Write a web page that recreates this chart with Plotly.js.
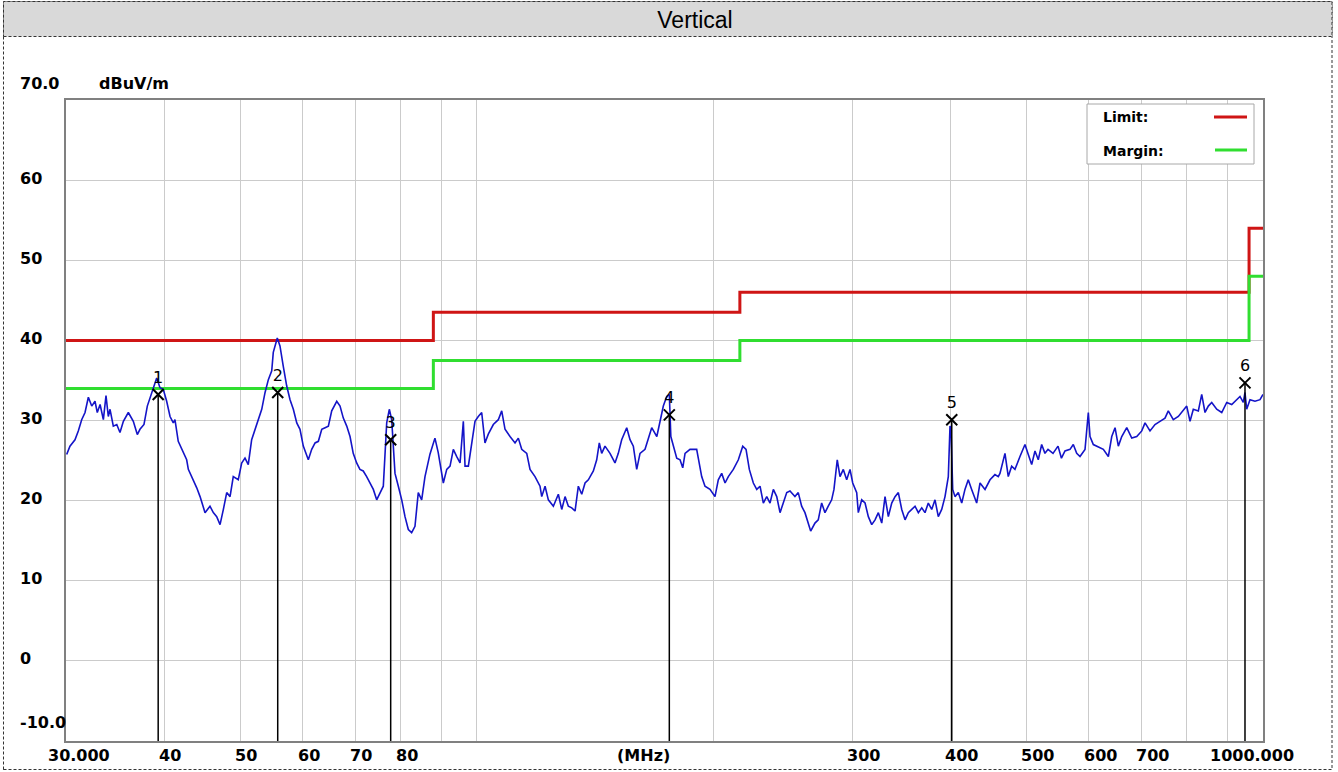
<!DOCTYPE html>
<html><head><meta charset="utf-8">
<script src="https://cdn.plot.ly/plotly-3.0.1.min.js"></script>
<style>html,body{margin:0;padding:0;background:#fff}#chart{width:1338px;height:772px}</style>
</head><body><div id="chart"></div>
<script>
// ---- data ----
const freqMHz = [30.06,30.35,30.80,31.10,31.41,31.72,32.03,32.35,32.66,32.88,33.15,33.47,33.73,33.96,34.13,34.46,34.81,35.14,35.49,36.01,36.54,36.97,37.26,37.70,38.07,38.45,38.93,39.13,39.51,39.89,40.29,40.69,41.08,41.28,41.68,42.30,42.72,42.93,43.56,44.00,44.43,44.65,45.08,45.74,46.19,46.65,47.11,47.57,48.04,48.51,48.97,49.69,50.19,50.68,51.17,51.68,52.18,52.69,53.23,53.75,54.27,54.81,55.06,55.71,56.15,56.69,57.27,57.83,58.39,58.98,59.54,60.12,61.01,61.62,62.23,62.83,63.46,64.08,64.70,65.34,66.31,66.95,67.60,68.28,68.94,69.59,70.29,70.97,71.66,72.38,73.08,73.81,74.54,75.27,76.00,76.76,77.35,77.89,78.65,79.42,80.21,80.99,81.78,82.58,83.39,84.20,85.04,85.87,87.13,88.41,89.27,90.61,91.52,92.41,93.30,94.24,95.16,96.08,96.56,97.50,98.46,99.42,100.38,101.39,102.37,103.37,104.90,106.45,107.51,108.56,110.16,111.79,112.87,114.00,115.69,116.81,118.53,120.28,120.88,122.07,123.25,125.07,126.91,128.18,129.43,130.69,132.00,133.28,134.57,135.92,137.24,138.57,140.62,142.01,143.09,144.10,145.50,147.65,149.82,151.28,152.79,155.06,156.57,158.09,159.67,161.22,163.60,165.19,166.84,169.35,170.95,172.61,174.34,175.67,176.45,177.80,179.53,181.27,182.71,183.95,186.64,190.33,191.79,193.14,195.02,197.90,200.82,202.77,204.80,206.82,208.82,211.90,215.03,217.82,219.94,222.07,224.69,226.94,229.14,231.37,233.69,235.96,238.25,240.63,242.97,245.33,247.79,250.14,253.83,256.29,258.86,261.37,263.91,265.78,269.14,271.76,274.48,277.14,279.84,282.64,284.55,287.31,289.63,292.45,295.38,298.25,300.62,304.16,305.59,308.65,311.67,314.70,317.85,320.94,324.06,327.30,330.47,333.69,337.02,340.30,343.61,347.05,350.42,353.83,357.37,360.84,364.35,368.00,371.52,375.13,378.89,382.57,386.28,390.15,393.95,397.78,399.76,400.94,402.94,405.66,409.61,413.71,417.67,421.72,425.94,432.23,436.50,442.94,449.47,456.03,460.46,462.76,469.59,474.15,478.90,483.55,490.71,497.95,502.79,507.83,512.74,517.72,522.90,527.98,532.72,540.58,548.55,554.05,559.87,568.14,573.66,579.40,585.03,593.70,599.47,602.46,608.32,614.41,620.38,626.41,635.69,642.05,648.29,654.58,661.14,670.90,680.79,690.84,701.03,707.83,718.18,728.77,739.52,750.44,757.73,768.91,780.33,791.84,799.77,807.54,815.37,827.42,835.67,843.79,851.99,860.52,873.22,886.13,899.21,912.48,925.94,934.82,943.89,948.61,953.35,962.61,976.83,991.25,1000];
const levelDb = [25.75,26.8,27.6,28.7,30.1,31.0,32.9,31.8,32.4,31.0,32.0,30.1,33.1,30.5,31.4,29.3,29.5,28.5,29.9,31.0,29.9,28.25,28.9,29.5,31.8,33.0,34.7,35.3,34.1,33.9,32.4,30.5,29.7,30.1,27.4,26.0,25.1,23.9,22.6,21.6,20.5,19.9,18.5,19.3,18.5,18.0,17.0,18.9,21.0,20.5,23.0,22.6,24.7,25.3,24.5,27.6,28.9,30.1,31.4,33.5,35.1,36.2,38.5,40.3,39.3,36.8,34.3,32.6,31.4,29.7,28.9,26.8,25.1,26.4,27.2,27.4,28.9,29.1,29.3,31.2,32.4,31.8,30.3,29.3,28.0,25.9,24.7,23.9,23.7,23.0,22.2,21.4,20.1,21.0,21.8,29.7,31.4,30.1,23.4,21.8,20.1,18.0,16.4,16.0,16.8,21.0,20.1,23.0,25.8,27.8,26.0,22.2,23.9,24.3,26.4,25.5,24.7,29.9,24.3,24.3,27.2,29.9,30.5,31.0,27.2,28.3,29.5,30.1,31.2,28.9,28.0,27.2,27.8,26.4,25.9,23.9,23.0,21.8,20.5,21.8,20.1,19.3,20.8,18.9,20.5,19.3,19.1,18.7,21.8,20.8,22.2,22.6,23.7,25.1,27.2,25.9,26.8,25.9,24.7,25.9,27.6,29.1,27.6,26.8,23.9,25.9,26.4,27.6,29.1,28.0,29.7,31.8,33.0,33.25,28.0,26.8,25.3,25.1,24.1,25.9,26.4,26.4,24.7,23.0,21.8,21.4,20.5,22.6,23.4,22.2,23.0,23.9,25.1,26.8,26.4,23.9,22.2,21.4,21.8,19.7,20.5,19.7,21.4,20.5,18.5,19.7,21.0,21.2,20.5,21.0,19.3,18.5,17.2,16.2,17.2,17.6,19.7,18.5,19.3,20.1,21.4,25.1,23.0,23.9,22.6,23.9,22.2,21.0,18.5,20.1,19.7,18.0,17.0,17.6,18.5,17.2,20.5,18.0,19.7,20.5,21.0,18.9,17.6,18.5,18.9,19.3,18.5,19.1,18.5,19.7,18.9,20.1,18.0,18.9,20.5,23.0,29.3,28.9,21.4,20.5,21.0,19.7,21.4,22.6,21.4,19.7,22.2,21.4,22.6,23.25,23.0,23.4,25.9,23.0,24.3,23.9,25.5,27.0,25.75,24.5,26.2,25.1,27.0,25.9,26.4,25.9,26.8,25.3,26.2,26.4,27.0,25.9,25.5,26.4,31.0,28.0,27.0,26.8,26.6,26.4,25.5,28.0,29.1,26.8,28.0,29.1,27.8,28.0,28.7,29.7,28.7,29.5,29.9,30.3,31.2,30.1,30.5,31.2,31.8,29.9,31.4,31.2,33.25,31.0,31.8,32.25,31.4,31.0,32.25,32.0,32.6,33.0,32.25,33.5,31.4,32.6,32.4,32.6,33.25];

const limitFreq = [30, 88, 216, 960, 1000];
const limitDb = [40, 43.5, 46, 54, 54];
const marginFreq = [30, 88, 216, 960, 1000];
const marginDb = [34, 37.5, 40, 48, 48];

const markerFreq = [39.3, 55.78, 77.66, 175.67, 401.8, 948.6];
const markerDb = [33.25, 33.5, 27.6, 30.7, 30.1, 34.7];
const markerLabels = ['1', '2', '3', '4', '5', '6'];

const xTickVals = [30, 40, 50, 60, 70, 80, 300, 400, 500, 600, 700, 1000];
const xTickText = ['30.000', '40', '50', '60', '70', '80', '300', '400', '500', '600', '700', '1000.000'];
const xGridVals = [40, 50, 60, 70, 80, 90, 100, 200, 300, 400, 500, 600, 700, 800, 900];
const yTickVals = [70, 60, 50, 40, 30, 20, 10, 0, -10];
const yTickText = ['70.0', '60', '50', '40', '30', '20', '10', '0', '-10.0'];
const xUnit = '(MHz)';
const yUnit = 'dBuV/m';
const chartTitle = 'Vertical';
const legendNames = ['Limit:', 'Margin:'];

// ---- styling / layout ----
const W = 1338, H = 772;
const M = {l: 66, r: 75, t: 100, b: 31};
const pw = W - M.l - M.r, ph = H - M.t - M.b;
const px2x = p => (p - M.l) / pw;          // pixel -> paper x
const py2y = p => (H - M.b - p) / ph;      // pixel -> paper y
const yMin = -10, yMax = 70;
const boldFont = {family: 'DejaVu Sans', size: 16, color: '#000', weight: 'bold'};
const RED = '#cf1515', GREEN = '#30de30', BLUE = '#1414c8';

const traces = [];
traces.push({x: limitFreq, y: limitDb, type: 'scatter', mode: 'lines', line: {color: RED, width: 3, shape: 'hv'}, hoverinfo: 'skip'});
traces.push({x: marginFreq, y: marginDb, type: 'scatter', mode: 'lines', line: {color: GREEN, width: 3, shape: 'hv'}, hoverinfo: 'skip'});
traces.push({x: freqMHz, y: levelDb, type: 'scatter', mode: 'lines', line: {color: BLUE, width: 1.6}, hoverinfo: 'skip'});
markerFreq.forEach((f, i) => {
  traces.push({x: [f, f], y: [markerDb[i], yMin], type: 'scatter', mode: 'lines', line: {color: '#000', width: 1.5}, hoverinfo: 'skip'});
});
traces.push({x: markerFreq, y: markerDb, text: markerLabels, type: 'scatter', mode: 'markers+text',
  marker: {symbol: 'x-thin', size: 11, color: '#000', line: {width: 2, color: '#000'}},
  textposition: 'top center', textfont: {family: 'DejaVu Sans', size: 16, color: '#000'}, cliponaxis: false, hoverinfo: 'skip'});

const annotations = [];
xTickVals.forEach((v, i) => {
  const last = i === xTickVals.length - 1, first = i === 0;
  annotations.push({x: Math.log10(v), xref: 'x', y: yMin, yref: 'y', text: xTickText[i], showarrow: false,
    xanchor: last ? 'right' : 'left', xshift: first ? -20 : (last ? 33 : -7), yanchor: 'middle', yshift: -14, font: boldFont});
});
annotations.push({x: px2x(643), xref: 'paper', y: yMin, yref: 'y', text: xUnit, showarrow: false, xanchor: 'center', yanchor: 'middle', yshift: -14, font: boldFont});
yTickVals.forEach((v, i) => {
  let ys = 2;
  if (i === 0) ys = 17;
  if (i === yTickVals.length - 1) ys = 19;
  annotations.push({x: px2x(17.5), xref: 'paper', y: v, yref: 'y', text: yTickText[i], showarrow: false, xanchor: 'left', yanchor: 'middle', yshift: ys, font: boldFont});
});
annotations.push({x: px2x(97), xref: 'paper', y: yMax, yref: 'y', text: yUnit, showarrow: false, xanchor: 'left', yanchor: 'middle', yshift: 17, font: boldFont});
// legend texts
const legFont = {family: 'DejaVu Sans', size: 14, color: '#000', weight: 'bold'};
annotations.push({x: px2x(1101), xref: 'paper', y: py2y(117), yref: 'paper', text: legendNames[0], showarrow: false, xanchor: 'left', yanchor: 'middle', font: legFont});
annotations.push({x: px2x(1101), xref: 'paper', y: py2y(151), yref: 'paper', text: legendNames[1], showarrow: false, xanchor: 'left', yanchor: 'middle', font: legFont});

const shapes = [
  // outer dashed frame
  {type: 'rect', xref: 'paper', yref: 'paper', x0: px2x(3.5), x1: px2x(1332), y0: py2y(769.5), y1: py2y(1.5), line: {color: '#333', width: 1, dash: '3px,2px'}, fillcolor: 'rgba(0,0,0,0)', layer: 'below'},
  // title bar
  {type: 'rect', xref: 'paper', yref: 'paper', x0: px2x(3.5), x1: px2x(1332), y0: py2y(36.5), y1: py2y(1.5), line: {color: '#333', width: 1, dash: '3px,2px'}, fillcolor: '#d9d9d9', layer: 'below'},
  // legend box
  {type: 'rect', xref: 'paper', yref: 'paper', x0: px2x(1087), x1: px2x(1254), y0: py2y(164), y1: py2y(104), line: {color: '#a8a8a8', width: 1}, fillcolor: '#fff', layer: 'above'},
  {type: 'line', xref: 'paper', yref: 'paper', x0: px2x(1214), x1: px2x(1247), y0: py2y(117), y1: py2y(117), line: {color: RED, width: 3}, layer: 'above'},
  {type: 'line', xref: 'paper', yref: 'paper', x0: px2x(1215), x1: px2x(1247), y0: py2y(150), y1: py2y(150), line: {color: GREEN, width: 3}, layer: 'above'}
];

const layout = {
  width: W, height: H, margin: M, showlegend: false,
  paper_bgcolor: '#fff', plot_bgcolor: '#fff',
  title: {text: chartTitle, x: 695 / W, xanchor: 'center', xref: 'container', y: 1 - 20 / H, yref: 'container', yanchor: 'middle',
    font: {family: 'Liberation Sans', size: 23, color: '#000'}},
  xaxis: {type: 'log', range: [Math.log10(30), Math.log10(1000)], tickvals: xGridVals, showticklabels: false, ticks: '',
    showgrid: true, gridcolor: '#cbcbcb', gridwidth: 1, showline: true, mirror: true, linecolor: '#808080', linewidth: 2, zeroline: false, fixedrange: true},
  yaxis: {range: [yMin, yMax], tickvals: yTickVals, showticklabels: false, ticks: '',
    showgrid: true, gridcolor: '#cbcbcb', gridwidth: 1, showline: true, mirror: true, linecolor: '#808080', linewidth: 2, zeroline: false, fixedrange: true},
  annotations: annotations, shapes: shapes
};

Plotly.newPlot('chart', traces, layout, {displayModeBar: false, staticPlot: true});
</script></body></html>
